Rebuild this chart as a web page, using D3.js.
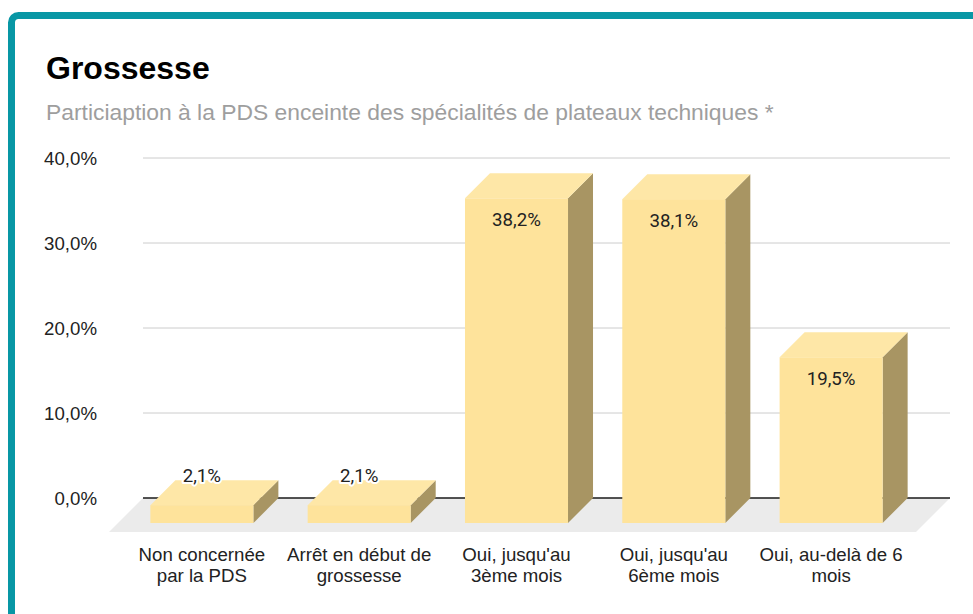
<!DOCTYPE html>
<html>
<head>
<meta charset="utf-8">
<script src="https://cdn.jsdelivr.net/npm/d3@7"></script>
<style>
  html, body { margin: 0; padding: 0; background: #fff; }
  svg { display: block; font-family: "Liberation Sans", Arial, sans-serif; }
</style>
</head>
<body>
<svg id="chart"></svg>
<script>
width = 973
height = 614

categories = [
    ["Non concernée", "par la PDS"],
    ["Arrêt en début de", "grossesse"],
    ["Oui, jusqu'au", "3ème mois"],
    ["Oui, jusqu'au", "6ème mois"],
    ["Oui, au-delà de 6", "mois"]
]
values = [2.1, 2.1, 38.2, 38.1, 19.5]
ticks = [0, 10, 20, 30, 40]

title = "Grossesse"
subtitle = "Particiaption à la PDS enceinte des spécialités de plateaux techniques *"

chart = function() {
    // back plane: gridlines live here, bars stick out towards the viewer by "depth"
    const depth = 25,
        floorDepth = 34,
        left = 143,
        right = 950,
        fmt = v => d3.format(".1f")(v).replace(".", ",") + "%";

    const svg = d3.select("#chart")
        .attr("width", width)
        .attr("height", height)
        .attr("viewBox", [0, 0, width, height]);

    // card with teal border, running off the right and bottom edges
    svg.append("rect")
        .attr("x", 11.5).attr("y", 15.5)
        .attr("width", 1100).attr("height", 800)
        .attr("rx", 7)
        .attr("fill", "#fff")
        .attr("stroke", "#0897a5")
        .attr("stroke-width", 7);

    svg.append("text")
        .attr("x", 46).attr("y", 79)
        .attr("font-size", 32).attr("font-weight", "bold")
        .attr("fill", "#000")
        .text(title);

    svg.append("text")
        .attr("x", 46).attr("y", 120)
        .attr("font-size", 22.85)
        .attr("fill", "#9e9e9e")
        .text(subtitle);

    const y = d3.scaleLinear().domain([0, 40]).range([498, 158]);

    const x = d3.scaleBand()
        .domain(d3.range(categories.length))
        .range([113, 920])
        .paddingInner(0.345)
        .paddingOuter(0.2375);

    // gridlines and tick labels
    const grid = svg.append("g");
    grid.selectAll("line")
        .data(ticks.filter(t => t > 0))
        .join("line")
        .attr("x1", left).attr("x2", right)
        .attr("y1", d => y(d)).attr("y2", d => y(d))
        .attr("stroke", "#cccccc")
        .attr("stroke-width", 1);

    grid.selectAll("text")
        .data(ticks)
        .join("text")
        .attr("x", 97)
        .attr("y", d => y(d) + 6.5)
        .attr("text-anchor", "end")
        .attr("font-size", 18.67)
        .attr("fill", "#222")
        .text(fmt);

    // floor
    const y0 = y(0);
    svg.append("path")
        .attr("d", `M${left},${y0}L${right},${y0}L${right - floorDepth},${y0 + floorDepth}L${left - floorDepth},${y0 + floorDepth}Z`)
        .attr("fill", "#ebebeb");

    svg.append("line")
        .attr("x1", left).attr("x2", right)
        .attr("y1", y0).attr("y2", y0)
        .attr("stroke", "#1a1a1a")
        .attr("stroke-width", 1.5);

    // bars
    const bw = x.bandwidth();
    const bar = svg.append("g")
        .selectAll("g")
        .data(values)
        .join("g");

    // front face coordinates: bottom at y0 + depth
    const fx = (d, i) => x(i);
    const ft = d => y(d) + depth;
    const fb = y0 + depth;

    bar.append("path")   // side
        .attr("d", (d, i) => {
            const r = fx(d, i) + bw;
            return `M${r},${fb}L${r + depth},${fb - depth}L${r + depth},${ft(d) - depth}L${r},${ft(d)}Z`;
        })
        .attr("fill", "#a89563");

    bar.append("path")   // top
        .attr("d", (d, i) => {
            const l = fx(d, i), t = ft(d);
            return `M${l},${t}L${l + depth},${t - depth}L${l + bw + depth},${t - depth}L${l + bw},${t}Z`;
        })
        .attr("fill", "#fee7a7");

    bar.append("rect")   // front
        .attr("x", fx)
        .attr("y", ft)
        .attr("width", bw)
        .attr("height", d => fb - ft(d))
        .attr("fill", "#fee39b");

    // value labels: inside tall bars, above short ones
    bar.append("text")
        .attr("x", (d, i) => fx(d, i) + bw / 2)
        .attr("y", d => (fb - ft(d) > 40) ? ft(d) + 27.5 : ft(d) - 23)
        .attr("text-anchor", "middle")
        .attr("font-family", "Roboto, sans-serif")
        .attr("font-size", 18.67)
        .attr("fill", "#222")
        .attr("stroke", d => (fb - ft(d) > 40) ? "none" : "#fff")
        .attr("stroke-width", 4)
        .attr("stroke-linejoin", "round")
        .attr("paint-order", "stroke")
        .text(fmt);

    // category labels
    svg.append("g")
        .selectAll("text")
        .data(categories)
        .join("text")
        .attr("x", (d, i) => x(i) + bw / 2)
        .attr("y", 561)
        .attr("text-anchor", "middle")
        .attr("font-size", 18.67)
        .attr("fill", "#222")
        .selectAll("tspan")
        .data(d => d)
        .join("tspan")
        .attr("x", function() { return this.parentNode.getAttribute("x"); })
        .attr("dy", (d, j) => j === 0 ? 0 : 21)
        .text(d => d);

    return svg.node();
}
chart()
</script>
</body>
</html>
